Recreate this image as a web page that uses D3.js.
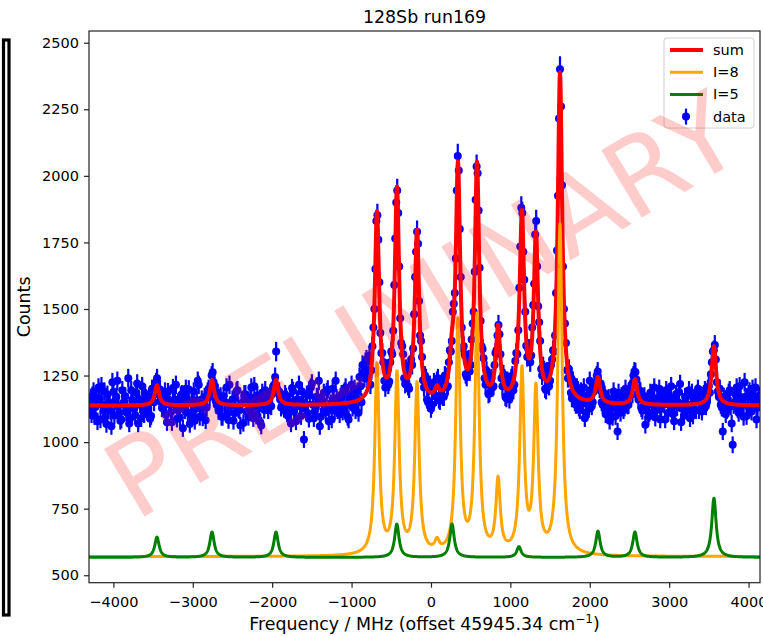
<!DOCTYPE html>
<html lang="en">
<head>
  <meta charset="UTF-8">
  <script src="https://cdn.jsdelivr.net/npm/d3@7"></script>
  <title>128Sb run169</title>
  <style>
    body { margin: 0; background: #fff; }
    text { font-family: "DejaVu Sans", sans-serif; fill: #000; }
  </style>
</head>
<body>
  <script>
    // measured scan, read off the plot: counts on a 25 MHz grid starting at freqStart,
    // and a second set interleaved half a step later
    const freqStart = -4300
    const freqStep = 25
    const counts = [
      1150, 1105, 1190, 1132, 1078, 1165, 1210, 1120, 1095, 1178, 1142, 1060, 1188, 1155, 1230, 1110,
      1085, 1148, 1172, 1126, 1070, 1195, 1138, 1102, 1220, 1160, 1090, 1135, 1182, 1115, 1168, 1098,
      1175, 1205, 1240, 1178, 1150,
      1128, 1190, 1075, 1145, 1112, 1203, 1160, 1088, 1136, 1175, 1052, 1120, 1166, 1198, 1104, 1142,
      1080, 1157, 1215, 1130, 1093, 1170,
      1130, 1200, 1195, 1262, 1210, 1140,
      1118, 1172, 1095, 1150, 1205, 1083, 1137, 1160, 1108, 1190, 1125, 1062, 1148, 1180, 1115, 1095,
      1168, 1133, 1210, 1100, 1145, 1075, 1185, 1122,
      1150, 1120, 1175, 1180, 1215, 1340, 1190, 1160, 1138,
      1125, 1170, 1098, 1152, 1203, 1115, 1078, 1160, 1135, 1190, 1010, 1142, 1108, 1175, 1220, 1090,
      1130, 1165, 1060, 1148, 1185, 1112, 1198, 1138, 1085, 1160, 1230, 1120,
      1105, 1180, 1130, 1205, 1095, 1162, 1215, 1140, 1120, 1190, 1245, 1150, 1262, 1300, 1238, 1325,
      1270, 1430, 1650, 1852, 1600, 1335, 1300, 1205, 1270, 1228, 1340, 1418, 1765, 1945, 1660, 1372,
      1330, 1218, 1265, 1200, 1310, 1352, 1620, 1790, 1530, 1380, 1232, 1250, 1160, 1210, 1125, 1198,
      1175, 1230, 1160, 1215, 1170, 1250, 1205, 1300, 1340, 1490, 1560, 1945, 2020, 1620, 1350, 1330,
      1245, 1310, 1290, 1445, 1640, 2035, 1870, 1455, 1350, 1240, 1268, 1180, 1235, 1205, 1290, 1345,
      1440, 1330, 1210, 1240, 1165, 1225, 1180, 1250, 1215, 1335, 1420, 1735, 1860, 1610, 1362, 1350,
      1300, 1430, 1595, 1830, 1510, 1380, 1250, 1270, 1195, 1255, 1230, 1310, 1340, 1560, 1925, 2400,
      1965, 1500, 1372, 1240, 1255, 1165, 1215, 1140, 1195, 1120, 1180, 1205, 1110, 1160, 1230, 1135,
      1190, 1225, 1265, 1200, 1150, 1185, 1105, 1160, 1080, 1135, 1190, 1098, 1040, 1145,
      1172, 1120, 1200, 1138, 1185, 1215, 1250, 1262, 1180, 1195, 1128, 1160, 1065,
      1150, 1110, 1175, 1138, 1092, 1165, 1200, 1125, 1150, 1085, 1178, 1140, 1210, 1105, 1160, 1132,
      1188, 1075, 1145, 1170, 1118, 1195, 1140, 1100, 1158, 1182,
      1120, 1175, 1140, 1195, 1150, 1210, 1255, 1340, 1365, 1225, 1170, 1140, 1040, 1160,
      1120, 1185, 1135, 990, 1150, 1205, 1110, 1168, 1142, 1225, 1098, 1180, 1130, 1200, 1155, 1085, 1170
    ]
    const countsHalf = [
      1120, 1175, 1098, 1160, 1205, 1085, 1140, 1190, 1068, 1152, 1118, 1225, 1100, 1170, 1135, 1080,
      1195, 1145, 1112, 1240, 1090, 1158, 1125, 1185, 1070, 1142, 1210, 1105, 1165, 1130, 1088, 1200,
      1150, 1225, 1185, 1198, 1128,
      1165, 1102, 1188, 1140, 1075, 1158, 1215, 1120, 1092, 1180, 1135, 1200, 1110, 1068, 1150, 1190,
      1125, 1230, 1095, 1160, 1140, 1082,
      1190, 1170, 1250, 1225, 1155, 1185,
      1130, 1095, 1172, 1150, 1108, 1215, 1138, 1080, 1165, 1195, 1120, 1145, 1072, 1180, 1158, 1112,
      1205, 1090, 1148, 1175, 1128, 1062, 1160, 1195,
      1140, 1165, 1135, 1210, 1245, 1200, 1190, 1130, 1155,
      1180, 1108, 1145, 1070, 1192, 1130, 1160, 1215, 1098, 1150, 1125, 1178, 1088, 1205, 1140, 1115,
      1170, 1230, 1095, 1155, 1132, 1188, 1078, 1145, 1200, 1118, 1165, 1140,
      1170, 1115, 1190, 1140, 1085, 1180, 1130, 1200, 1165, 1110, 1210, 1290, 1240, 1310, 1270, 1215,
      1360, 1500, 1830, 1760, 1410, 1335, 1230, 1275, 1215, 1300, 1330, 1590, 1900, 1860, 1465, 1360,
      1240, 1275, 1210, 1290, 1290, 1480, 1715, 1745, 1400, 1320, 1205, 1240, 1150, 1215, 1140, 1225,
      1170, 1240, 1155, 1220, 1170, 1245, 1210, 1345, 1380, 1520, 1690, 2075, 1800, 1430, 1360, 1255,
      1305, 1265, 1385, 1490, 1910, 2010, 1655, 1360, 1315, 1215, 1250, 1185, 1240, 1210, 1335, 1400,
      1405, 1240, 1255, 1170, 1230, 1160, 1240, 1195, 1305, 1330, 1580, 1880, 1715, 1490, 1320, 1350,
      1325, 1515, 1780, 1660, 1450, 1275, 1285, 1200, 1265, 1210, 1290, 1345, 1400, 1720, 2215, 2260,
      1660, 1445, 1270, 1275, 1185, 1230, 1150, 1205, 1130, 1190, 1145, 1090, 1175, 1125, 1195, 1150,
      1210, 1250, 1215, 1220, 1140, 1178, 1120, 1165, 1138, 1095, 1170, 1125, 1185, 1110,
      1160, 1130, 1175, 1140, 1200, 1180, 1265, 1235, 1160, 1190, 1118, 1172, 1135,
      1095, 1185, 1150, 1205, 1120, 1160, 1085, 1175, 1142, 1195, 1110, 1165, 1130, 1078, 1180, 1150,
      1218, 1125, 1100, 1170, 1140, 1090, 1185, 1155, 1120, 1200,
      1160, 1115, 1180, 1135, 1200, 1185, 1300, 1345, 1310, 1190, 1200, 1130, 1170, 1105,
      1150, 1195, 1070, 1140, 1180, 1125, 1210, 1150, 1095, 1170, 1135, 1190, 1115, 1160, 1205, 1130, 1175
    ]

    // fitted Lorentzian components (MHz, counts above background)
    const i8Background = 570
    const i5Background = 567
    const hwhm = 33
    const i8Centres = [-680, -428, -176, 76, 340, 580, 845, 1146, 1322, 1625]
    const i8Heights = [712, 672, 636, 38, 872, 888, 270, 682, 610, 1237]
    const i5Centres = [-3451, -2758, -1952, -430, 265, 1108, 2103, 2569, 3564]
    const i5Heights = [76, 95, 95, 125, 125, 40, 98, 95, 222]

    const xTicks = [-4000, -3000, -2000, -1000, 0, 1000, 2000, 3000, 4000]
    const yTicks = [500, 750, 1000, 1250, 1500, 1750, 2000, 2250, 2500]

    const width = 763, height = 636
    const plot = { left: 89, right: 760, top: 31, bottom: 582.7 }

    const x = d3.scaleLinear().domain([-4307, 4144]).range([plot.left, plot.right])
    const y = d3.scaleLinear().domain([472, 2544]).range([plot.bottom, plot.top])

    const svg = d3.select('body').append('svg')
        .attr('width', width)
        .attr('height', height)

    // stray frame at the left edge
    svg.append('rect')
        .attr('x', 3.5).attr('y', 40)
        .attr('width', 5.5).attr('height', 575)
        .attr('fill', 'none')
        .attr('stroke', '#000')
        .attr('stroke-width', 3.2)

    svg.append('clipPath').attr('id', 'clip')
      .append('rect')
        .attr('x', plot.left).attr('y', plot.top)
        .attr('width', plot.right - plot.left).attr('height', plot.bottom - plot.top)

    const data = counts.map((c, i) => ({ f: freqStart + i * freqStep, c: c }))
      .concat(countsHalf.map((c, i) => ({ f: freqStart + (i + 0.5) * freqStep, c: c })))
      .sort((a, b) => a.f - b.f)
    data.forEach(d => { d.e = Math.sqrt(d.c) })

    const profile = (base, centres, heights, f) => base +
      d3.sum(centres, (c, i) => heights[i] / (1 + ((f - c) / hwhm) ** 2))

    const grid = d3.range(x.domain()[0], x.domain()[1] + 2, 2)
    const i8 = grid.map(f => ({ f, v: profile(i8Background, i8Centres, i8Heights, f) }))
    const i5 = grid.map(f => ({ f, v: profile(i5Background, i5Centres, i5Heights, f) }))
    const sum = grid.map((f, i) => ({ f, v: i8[i].v + i5[i].v }))

    const g = svg.append('g').attr('clip-path', 'url(#clip)')

    g.append('g').selectAll('line')
      .data(data)
      .join('line')
        .attr('x1', d => x(d.f)).attr('x2', d => x(d.f))
        .attr('y1', d => y(d.c - d.e)).attr('y2', d => y(d.c + d.e))
        .attr('stroke', '#0000ff')
        .attr('stroke-width', 2.2)

    g.append('g').selectAll('circle')
      .data(data)
      .join('circle')
        .attr('cx', d => x(d.f))
        .attr('cy', d => y(d.c))
        .attr('r', 4)
        .attr('fill', '#0000ff')

    const line = d3.line().x(d => x(d.f)).y(d => y(d.v))

    const series = [
      { name: 'sum', values: sum, color: '#ff0000', w: 4 },
      { name: 'I=8', values: i8, color: '#ffa500', w: 3 },
      { name: 'I=5', values: i5, color: '#008000', w: 3 }
    ]

    series.forEach(s => {
      g.append('path')
          .datum(s.values)
          .attr('fill', 'none')
          .attr('stroke', s.color)
          .attr('stroke-width', s.w)
          .attr('stroke-linejoin', 'round')
          .attr('d', line)
    })

    // axes
    const fmt = d3.format('d')
    const xAxis = svg.append('g')
        .attr('transform', `translate(0,${plot.bottom})`)
        .call(d3.axisBottom(x).tickValues(xTicks).tickFormat(fmt).tickSize(5).tickPadding(9).tickSizeOuter(0))
    const yAxis = svg.append('g')
        .attr('transform', `translate(${plot.left},0)`)
        .call(d3.axisLeft(y).tickValues(yTicks).tickFormat(fmt).tickSize(5).tickPadding(5).tickSizeOuter(0))

    ;[xAxis, yAxis].forEach(a => {
      a.select('.domain').remove()
      a.selectAll('.tick line').attr('stroke', '#222').attr('stroke-width', 1.2)
      a.selectAll('.tick text')
          .style('font-family', '"DejaVu Sans", sans-serif')
          .style('font-size', '14.5px')
          .attr('fill', '#111')
    })

    svg.append('rect')
        .attr('x', plot.left).attr('y', plot.top)
        .attr('width', plot.right - plot.left).attr('height', plot.bottom - plot.top)
        .attr('fill', 'none')
        .attr('stroke', '#222')
        .attr('stroke-width', 1.2)

    const cx = (plot.left + plot.right) / 2

    svg.append('text')
        .attr('x', cx).attr('y', 23)
        .attr('text-anchor', 'middle')
        .style('font-size', '17.4px')
        .text('128Sb run169')

    const xl = svg.append('text')
        .attr('x', cx).attr('y', 630)
        .attr('text-anchor', 'middle')
        .style('font-size', '17.4px')
    xl.append('tspan').text('Frequency / MHz (offset 45945.34 cm')
    xl.append('tspan').attr('dy', -7).style('font-size', '12px').text('\u22121')
    xl.append('tspan').attr('dy', 7).text(')')

    svg.append('text')
        .attr('transform', `translate(30,${(plot.top + plot.bottom) / 2}) rotate(-90)`)
        .attr('text-anchor', 'middle')
        .style('font-size', '17.4px')
        .text('Counts')

    // legend
    const lg = svg.append('g').attr('transform', 'translate(664,38)')
    lg.append('rect')
        .attr('width', 90).attr('height', 90)
        .attr('rx', 3)
        .attr('fill', '#fff').attr('fill-opacity', 0.8)
        .attr('stroke', '#d0d0d0')

    series.forEach((s, i) => {
      const row = lg.append('g').attr('transform', `translate(0,${12 + i * 22.2})`)
      row.append('line')
          .attr('x1', 6).attr('x2', 39)
          .attr('stroke', s.color).attr('stroke-width', s.w)
      row.append('text')
          .attr('x', 49).attr('dy', '0.35em')
          .style('font-size', '14.5px')
          .text(s.name)
    })
    const dr = lg.append('g').attr('transform', `translate(0,${12 + 3 * 22.2})`)
    dr.append('line')
        .attr('x1', 22).attr('x2', 22).attr('y1', -8).attr('y2', 8)
        .attr('stroke', '#0000ff').attr('stroke-width', 2.2)
    dr.append('circle').attr('cx', 22).attr('r', 4).attr('fill', '#0000ff')
    dr.append('text')
        .attr('x', 49).attr('dy', '0.35em')
        .style('font-size', '14.5px')
        .text('data')

    // watermark
    svg.append('text')
        .attr('transform', `translate(${cx - 3},${(plot.top + plot.bottom) / 2 - 2}) rotate(-31)`)
        .attr('text-anchor', 'middle')
        .attr('dy', '0.36em')
        .style('font-size', '108px')
        .style('fill', '#ff0000')
        .style('fill-opacity', 0.2)
        .text('PRELIMINARY')
  </script>
</body>
</html>
